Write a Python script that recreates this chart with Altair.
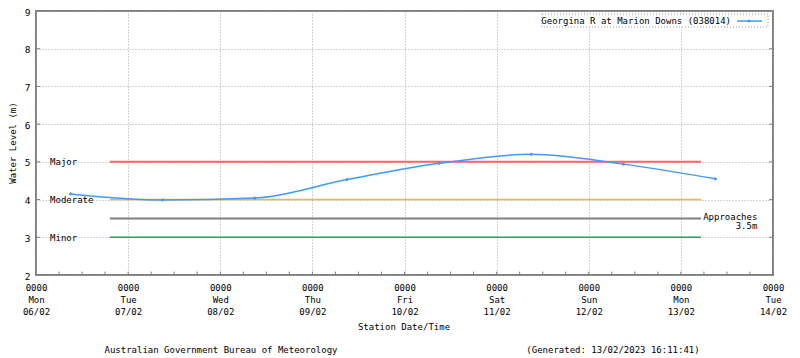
import altair as alt
import pandas as pd

# ---- data ----
times = [
    "2023-02-06T09:00:00Z", "2023-02-07T09:00:00Z", "2023-02-08T09:00:00Z",
    "2023-02-09T09:00:00Z", "2023-02-10T09:00:00Z", "2023-02-11T09:00:00Z",
    "2023-02-12T09:00:00Z", "2023-02-13T09:00:00Z",
]
levels = [4.15, 3.99, 4.04, 4.53, 4.96, 5.20, 4.94, 4.55]

y_ticks = [2, 3, 4, 5, 6, 7, 8, 9]

thr_names = ["Major", "Moderate", "Approaches", "Minor"]
thr_values = [5.0, 4.0, 3.5, 3.0]
thr_colors = ["#ff6464", "#f7b924", "#7f7f7f", "#2e9960"]
thr_widths = [2.0, 1.6, 2.0, 1.5]
thr_start = "2023-02-06T19:15:00Z"
thr_end = "2023-02-13T05:15:00Z"
thr_label_time = "2023-02-06T03:40:00Z"
approach_label_time = "2023-02-13T19:55:00Z"

series_name = "Georgina R at Marion Downs (038014)"
x_title = "Station Date/Time"
y_title = "Water Level (m)"
footer_left = "Australian Government Bureau of Meteorology"
footer_right = "(Generated: 13/02/2023 16:11:41)"

FONT = "DejaVu Sans Mono"
FS = 9
BLUE = "#3d9bff"

xdom = [alt.DateTime(year=2023, month=2, date=6, utc=True),
        alt.DateTime(year=2023, month=2, date=14, utc=True)]
xvals = [alt.DateTime(year=2023, month=2, date=d, utc=True) for d in range(6, 15)]
xscale = alt.Scale(type="utc", domain=xdom)
yscale = alt.Scale(domain=[2, 9], nice=False, zero=False)

x_axis = alt.Axis(values=xvals, grid=True, ticks=False, domain=False,
                  labelExpr="['0000', utcFormat(datum.value, '%a'), utcFormat(datum.value, '%d/%m')]",
                  labelFont=FONT, labelFontSize=FS, labelColor="black",
                  labelLineHeight=12, labelPadding=8, labelBaseline="top",
                  labelFlush=False, labelOverlap=False, title=None)
y_axis = alt.Axis(values=y_ticks, grid=True, ticks=False, domain=False,
                  labelFont=FONT, labelFontSize=9.5, labelColor="black",
                  labelPadding=6, labelOffset=1, labelFlush=False, title=None, format="d")


def X(field):
    return alt.X(field, scale=xscale, axis=x_axis)


def Y(field):
    return alt.Y(field, scale=yscale, axis=y_axis)


df = pd.DataFrame({"t": times, "level": levels})
base = alt.Chart(df)
line = base.mark_line(color=BLUE, strokeWidth=1.5, interpolate="monotone").encode(
    x=X("t:T"), y=Y("level:Q"))
pts = base.mark_point(shape="diamond", filled=True, size=14, color=BLUE, opacity=1).encode(
    x=X("t:T"), y=Y("level:Q"))

# threshold lines
thr_layers = []
for name, v, c, w in zip(thr_names, thr_values, thr_colors, thr_widths):
    tdf = pd.DataFrame({"t": [thr_start], "e": [thr_end], "level": [v]})
    thr_layers.append(
        alt.Chart(tdf).mark_rule(color=c, strokeWidth=w).encode(
            x=X("t:T"), x2="e:T", y=Y("level:Q"))
    )

# threshold labels
lab_df = pd.DataFrame({"t": [thr_label_time] * 3,
                       "level": [thr_values[0], thr_values[1], thr_values[3]],
                       "txt": [thr_names[0], thr_names[1], thr_names[3]]})
thr_text = alt.Chart(lab_df).mark_text(align="left", baseline="middle", font=FONT,
                                       fontSize=FS, color="black", dy=0.5).encode(
    x=X("t:T"), y=Y("level:Q"), text="txt:N")
app1 = alt.Chart(pd.DataFrame({"t": [approach_label_time], "level": [thr_values[2]],
                               "txt": [thr_names[2]]})).mark_text(
    align="right", baseline="middle", font=FONT, fontSize=FS, color="black", dy=-1.5).encode(
    x=X("t:T"), y=Y("level:Q"), text="txt:N")
app2 = alt.Chart(pd.DataFrame({"t": [approach_label_time], "level": [thr_values[2]],
                               "txt": ["3.5m"]})).mark_text(
    align="right", baseline="middle", font=FONT, fontSize=FS, color="black", dy=7.5).encode(
    x=X("t:T"), y=Y("level:Q"), text="txt:N")

# ticks (inward)
minor = pd.date_range("2023-02-06", "2023-02-14", freq="6h", tz="UTC")
xt_df = pd.DataFrame({"t": [m.strftime("%Y-%m-%dT%H:%M:%SZ") for m in minor],
                      "level": 2.0, "y1": 2.09})
xticks = alt.Chart(xt_df).mark_rule(color="#7f7f7f", strokeWidth=1).encode(
    x=X("t:T"), y=Y("level:Q"), y2="y1:Q")
inner = y_ticks[1:-1]
yt_df = pd.DataFrame({
    "t": ["2023-02-06T00:00:00Z"] * len(inner) + ["2023-02-13T23:00:00Z"] * len(inner),
    "b": ["2023-02-06T01:05:00Z"] * len(inner) + ["2023-02-14T00:00:00Z"] * len(inner),
    "level": inner + inner})
yticks = alt.Chart(yt_df).mark_rule(color="#7f7f7f", strokeWidth=1).encode(
    x=X("t:T"), x2="b:T", y=Y("level:Q"))

# manual legend (top right)
one = pd.DataFrame({"k": [0]})
leg_box = alt.Chart(one).mark_rect(fill="white", stroke="#9a9a9a", strokeWidth=1,
                                   strokeDash=[1, 2]).encode(
    x=alt.value(506), x2=alt.value(732), y=alt.value(3), y2=alt.value(16))
leg_text = alt.Chart(one).mark_text(align="right", baseline="middle", font=FONT,
                                    fontSize=FS, color="black", text=series_name).encode(
    x=alt.value(695), y=alt.value(10))
leg_line = alt.Chart(one).mark_rule(color=BLUE, strokeWidth=1.5).encode(
    x=alt.value(701), x2=alt.value(726), y=alt.value(10))
leg_pt = alt.Chart(one).mark_point(shape="diamond", filled=True, size=14, color=BLUE,
                                   opacity=1).encode(x=alt.value(713), y=alt.value(10))

# titles and footer
xt = alt.Chart(one).mark_text(align="center", baseline="middle", font=FONT, fontSize=FS,
                              color="black", text=x_title).encode(
    x=alt.value(368), y=alt.value(316))
yt = alt.Chart(one).mark_text(align="center", baseline="middle", font=FONT, fontSize=FS,
                              color="black", angle=270, text=y_title).encode(
    x=alt.value(-23), y=alt.value(132))
f1 = alt.Chart(one).mark_text(align="center", baseline="middle", font=FONT, fontSize=FS,
                              color="black", text=footer_left).encode(
    x=alt.value(185), y=alt.value(339))
f2 = alt.Chart(one).mark_text(align="center", baseline="middle", font=FONT, fontSize=FS,
                              color="black", text=footer_right).encode(
    x=alt.value(577), y=alt.value(339))

chart = alt.layer(
    *thr_layers, line, pts, thr_text, app1, app2, xticks, yticks,
    leg_box, leg_text, leg_line, leg_pt, xt, yt, f1, f2
).properties(
    width=737, height=264,
    autosize=alt.AutoSizeParams(type="none"),
    padding={"left": 28, "top": 3, "right": 19, "bottom": 83},
).configure_view(
    stroke="#7f7f7f", strokeWidth=2
).configure_axis(
    gridColor="#a8a8a8", gridDash=[1, 2], gridWidth=1, gridOpacity=1
)

chart.save("out.html", embed_options={"renderer": "svg", "actions": False})
